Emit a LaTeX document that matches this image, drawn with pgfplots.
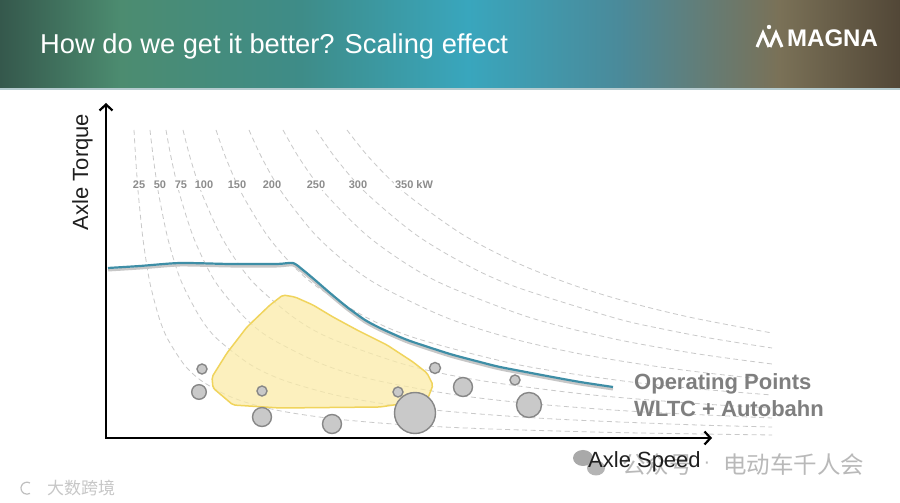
\documentclass[border=0pt]{standalone}
\usepackage{pgfplots}
\pgfplotsset{compat=1.18}
\usepackage{pgfplotstable}
\usepackage{fontspec}
\setmainfont{Liberation Sans}
\newfontfamily\cjk{Noto Sans CJK SC}
\usetikzlibrary{arrows.meta}

\definecolor{dashc}{HTML}{C9C9C9}
\definecolor{torq}{RGB}{62,142,166}
\definecolor{yfill}{HTML}{FBEBA6}
\definecolor{yedge}{HTML}{F0D45C}
\definecolor{bubfill}{HTML}{C9C9C9}
\definecolor{bubedge}{HTML}{878787}
\definecolor{kwc}{HTML}{8C8C8C}
\definecolor{opc}{HTML}{7F7F7F}
\definecolor{wmc}{HTML}{B9B9B9}
\definecolor{hline}{HTML}{B5CBCF}
\definecolor{wc1}{HTML}{A9A9A9}
\definecolor{wc2}{HTML}{B4B4B4}
\definecolor{h1}{HTML}{35584C}
\definecolor{h2}{HTML}{4C8C70}
\definecolor{h3}{HTML}{3E8C88}
\definecolor{h4}{HTML}{39A6BD}
\definecolor{h5}{HTML}{4A8A9A}
\definecolor{h6}{HTML}{7A7157}
\definecolor{h7}{HTML}{524737}

\pgfdeclarehorizontalshading{hdr}{100bp}{color(0bp)=(h1); color(25bp)=(h1); color(31.7bp)=(h2); color(41.7bp)=(h3); color(51bp)=(h4); color(59.4bp)=(h5); color(68.3bp)=(h6); color(75bp)=(h7); color(100bp)=(h7)}

\pgfplotsset{pcurve/.style={color=dashc, line width=0.8pt, dash pattern=on 5pt off 3.5pt, smooth, no marks}}

\pgfplotstableread{
x y
2 170
34 172
74 175
124 174
171 174
187 175
197 168
209 158
224 145
241 131
259 118
274 110
294 101
307 96
344 84
374 76
394 71
441 62
474 56
507 51
}\torque

\pgfplotstableread{
x y r
96 69 5
93 46 7.3
156 47 5
156 21 9.5
226 14 9.5
292 46 5
309 25 20.5
329 70 5.5
357 51 9.5
409 58 5
423 33 12.5
}\bubbles

\begin{document}
\begin{tikzpicture}
\begin{axis}[width=900pt, height=503pt, scale only axis,
  xmin=-106, xmax=794, ymin=-65, ymax=438, hide axis, clip=false]

% canvas
\fill[white] (axis cs:-106,-65) rectangle (axis cs:794,438);
% header
\shade[shading=hdr] (axis cs:-106,350) rectangle (axis cs:794,438);
\fill[hline] (axis cs:-106,348) rectangle (axis cs:794,350);

% constant power curves
\addplot[pcurve] coordinates {(28.0,308) (29.7,279.5) (32.2,245.4) (36.4,203.7) (40.6,173.9) (44.7,151.5) (53.1,120.2) (61.5,99.3) (78.2,73.3) (94.9,57.6) (120.0,43.2) (145.1,34.1) (178.6,26.3) (228.8,19.1) (295.7,13.4) (379.3,9.2) (513.2,5.4) (666,3)};
\addplot[pcurve] coordinates {(44.0,308) (47.4,279.5) (52.4,245.4) (60.8,203.7) (69.1,173.9) (77.5,151.5) (94.3,120.2) (111.0,99.3) (144.5,73.3) (178.0,57.6) (228.3,43.2) (278.6,34.1) (345.6,26.3) (446.1,19.1) (580.2,13.4) (666,11)};
\addplot[pcurve] coordinates {(60.0,308) (65.3,279.5) (73.2,245.4) (86.3,203.7) (99.5,173.9) (112.6,151.5) (138.9,120.2) (165.2,99.3) (217.8,73.3) (270.4,57.6) (349.3,43.2) (428.2,34.1) (533.4,26.3) (666,20)};
\addplot[pcurve] coordinates {(77.0,308) (84.4,279.5) (95.5,245.4) (114.1,203.7) (132.6,173.9) (151.2,151.5) (188.2,120.2) (225.3,99.3) (299.5,73.3) (373.6,57.6) (484.8,43.2) (596.0,34.1) (666,30)};
\addplot[pcurve] coordinates {(110.0,308) (120.1,279.5) (135.2,245.4) (160.4,203.7) (185.5,173.9) (210.7,151.5) (261.1,120.2) (311.4,99.3) (412.1,73.3) (512.8,57.6) (588.4,49.4) (666,43)};
\addplot[pcurve] coordinates {(143.0,308) (156.2,279.5) (176.0,245.4) (208.9,203.7) (241.9,173.9) (274.8,151.5) (340.7,120.2) (406.6,99.3) (472.5,84.4) (538.4,73.3) (602.0,64.9) (666,58)};
\addplot[pcurve] coordinates {(177.0,308) (193.5,279.5) (218.3,245.4) (259.6,203.7) (300.8,173.9) (342.1,151.5) (424.7,120.2) (507.2,99.3) (589.8,84.4) (666,74)};
\addplot[pcurve] coordinates {(210.0,308) (229.9,279.5) (259.7,245.4) (309.4,203.7) (359.0,173.9) (408.7,151.5) (508.1,120.2) (557.7,108.8) (607.4,99.3) (666,90)};
\addplot[pcurve] coordinates {(241.0,308) (264.0,279.5) (298.6,245.4) (356.2,203.7) (413.7,173.9) (471.3,151.5) (528.9,134.1) (586.5,120.2) (666,105)};

% power labels
\begin{scope}[every node/.style={fill=white, inner sep=1pt, text=kwc, font=\fontsize{11}{12}\selectfont\bfseries}]
\node at (axis cs:33,253) {25};
\node at (axis cs:54,253) {50};
\node at (axis cs:75,253) {75};
\node at (axis cs:98,253) {100};
\node at (axis cs:131,253) {150};
\node at (axis cs:166,253) {200};
\node at (axis cs:210,253) {250};
\node at (axis cs:252,253) {300};
\node at (axis cs:308,253) {350 kW};
\end{scope}

% torque curve with shadow
\addplot[color=black!22, line width=2.6pt, smooth, tension=0.4, no marks] table[x=x, y expr=\thisrow{y}-2.2] {\torque};
\addplot[color=torq, line width=2.2pt, smooth, tension=0.4, no marks] table[x=x, y=y] {\torque};

% bubbles
\addplot[scatter, only marks, mark=*, line width=1.4pt,
  scatter/use mapped color={draw=bubedge, fill=bubfill},
  visualization depends on={\thisrow{r}\as\rr},
  scatter/@pre marker code/.append style={/tikz/mark size=\rr}]
  table[x=x, y=y] {\bubbles};

% operating area
\addplot[fill=yfill, fill opacity=0.72, draw=yedge, line width=1.5pt, rounded corners=2pt, no marks] coordinates {
(177,143) (189,141) (207,133) (227,121) (251,108) (281,93) (307,76) (321,65) (327,53) (322,40) (301,35) (274,31) (174,30) (127,33) (107,50) (106,61) (121,85) (141,111) (164,133)} -- cycle;

% axes
\draw[line width=2.2pt, {Straight Barb[length=6pt,width=13pt]}-{Straight Barb[length=6pt,width=13pt]}] (axis cs:0,335) -- (axis cs:0,0) -- (axis cs:606,0);

% watermarks
\fill[wc1] (axis cs:477,-20) ellipse [x radius=10pt, y radius=8pt];
\fill[wc2] (axis cs:490,-30) ellipse [x radius=9pt, y radius=7.5pt];
\node[anchor=west, inner sep=0pt, text=wmc, font=\cjk\fontsize{23.5}{26}\selectfont] at (axis cs:516,-27) {公众号};
\node[inner sep=0pt, text=wmc, font=\fontsize{20}{22}\selectfont] at (axis cs:601,-27) {·};
\node[anchor=west, inner sep=0pt, text=wmc, font=\cjk\fontsize{23.5}{26}\selectfont] at (axis cs:617,-27) {电动车千人会};
\node[anchor=west, inner sep=0pt, text=black!22, font=\cjk\fontsize{17}{19}\selectfont] at (axis cs:-59,-50) {大数跨境};
\draw[black!25, line width=1.2pt] (axis cs:-76,-45) arc[start angle=60, end angle=300, radius=6pt];

% axis labels
\node[anchor=base, rotate=90, inner sep=0pt, text=black!88, font=\fontsize{22}{25}\selectfont] at (axis cs:-18,266) {Axle Torque};
\node[anchor=base west, inner sep=0pt, text=black!88, font=\fontsize{22}{25}\selectfont] at (axis cs:482,-30) {Axle Speed};

% operating points text
\node[anchor=base west, inner sep=0pt, text=opc, font=\fontsize{22}{25}\selectfont\bfseries] at (axis cs:528,48) {Operating Points};
\node[anchor=base west, inner sep=0pt, text=opc, font=\fontsize{22}{25}\selectfont\bfseries] at (axis cs:528,21) {WLTC + Autobahn};

% title and logo
\node[anchor=base west, inner sep=0pt, text=white, font=\fontsize{27.3}{32}\selectfont] at (axis cs:-66,384) {How do we get it better? Scaling effect};
\node[anchor=base west, inner sep=0pt, text=white, font=\fontsize{24}{28}\selectfont\bfseries] at (axis cs:681,391) {MAGNA};
\draw[white, line width=3pt, line join=miter] (axis cs:651,391) -- (axis cs:657,405) -- (axis cs:663,391);
\draw[white, line width=3pt, line join=miter] (axis cs:664,391) -- (axis cs:670,405) -- (axis cs:676,391);
\fill[white] (axis cs:663,411) circle[radius=2.2pt];
\end{axis}
\end{tikzpicture}
\end{document}
